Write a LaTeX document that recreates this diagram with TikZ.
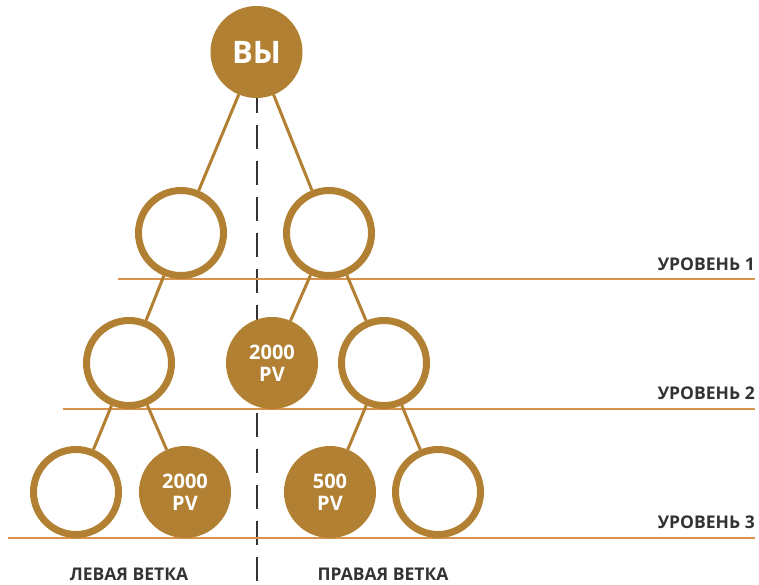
\documentclass[tikz,border=0pt]{standalone}
\usepackage{fontspec}
\setmainfont{Open Sans}
\usepackage{tikz}
\usetikzlibrary{calc}
\usetikzlibrary{positioning}

\definecolor{gold}{HTML}{B28032}
\definecolor{rule}{HTML}{DA924F}
\definecolor{ink}{HTML}{333333}

\begin{document}
\begin{tikzpicture}[x=1pt, y=-1pt,
	member/.style={circle, draw=gold, line width=7pt, minimum size=85pt, inner sep=0pt},
	active/.style={member, fill=gold, text=white, font=\bfseries\fontsize{20}{22}\selectfont, align=center},
	link/.style={gold, line width=3pt},
	level/.style={rule, line width=2pt},
	tag/.style={ink, font=\bfseries\fontsize{17.5}{18}\selectfont, inner sep=0pt}]
				\useasboundingbox (0,0) rectangle (759,584);
				
				% divider
				\coordinate (top) at (257,89);
				\coordinate (bottom) at (257,584);
				\draw[ink, line width=2.5pt, dash pattern=on 24pt off 12pt] (top) -- (bottom);
				
				% levels
				\draw[level] (118,279) -- (755,279);
				\draw[level] (63,409) -- (755,409);
				\draw[level] (8,538) -- (755,538);
				\node[tag, anchor=base east] (l1) at (755,270) {УРОВЕНЬ 1};
				\node[tag, anchor=base east] (l2) at (755,399) {УРОВЕНЬ 2};
				\node[tag, anchor=base east] (l3) at (755,528) {УРОВЕНЬ 3};
				
				\node[active, font=\bfseries\fontsize{31}{31}\selectfont] (0) at (256.5,52) {ВЫ};
				\node[member] (1) at (181,233) {};
				\node[member] (2) at (329,233) {};
				\node[member] (3) at (129,363) {};
				\node[active] (4) at (272,363) {2000\\PV};
				\node[member] (5) at (384,363) {};
				\node[member] (6) at (76,492) {};
				\node[active] (7) at (185,492) {2000\\PV};
				\node[active] (8) at (330,492) {500\\PV};
				\node[member] (9) at (438,492) {};
				
				\draw[link] (0) -- (1);
				\draw[link] (0) -- (2);
				\draw[link] (1) -- (3);
				\draw[link] (2) -- (4);
				\draw[link] (2) -- (5);
				\draw[link] (3) -- (6);
				\draw[link] (3) -- (7);
				\draw[link] (5) -- (8);
				\draw[link] (5) -- (9);
				
				\node[tag, anchor=base] (left) at (129,580) {ЛЕВАЯ ВЕТКА};
				\node[tag, anchor=base] (right) at (383,580) {ПРАВАЯ ВЕТКА};
			\end{tikzpicture}
\end{document}
